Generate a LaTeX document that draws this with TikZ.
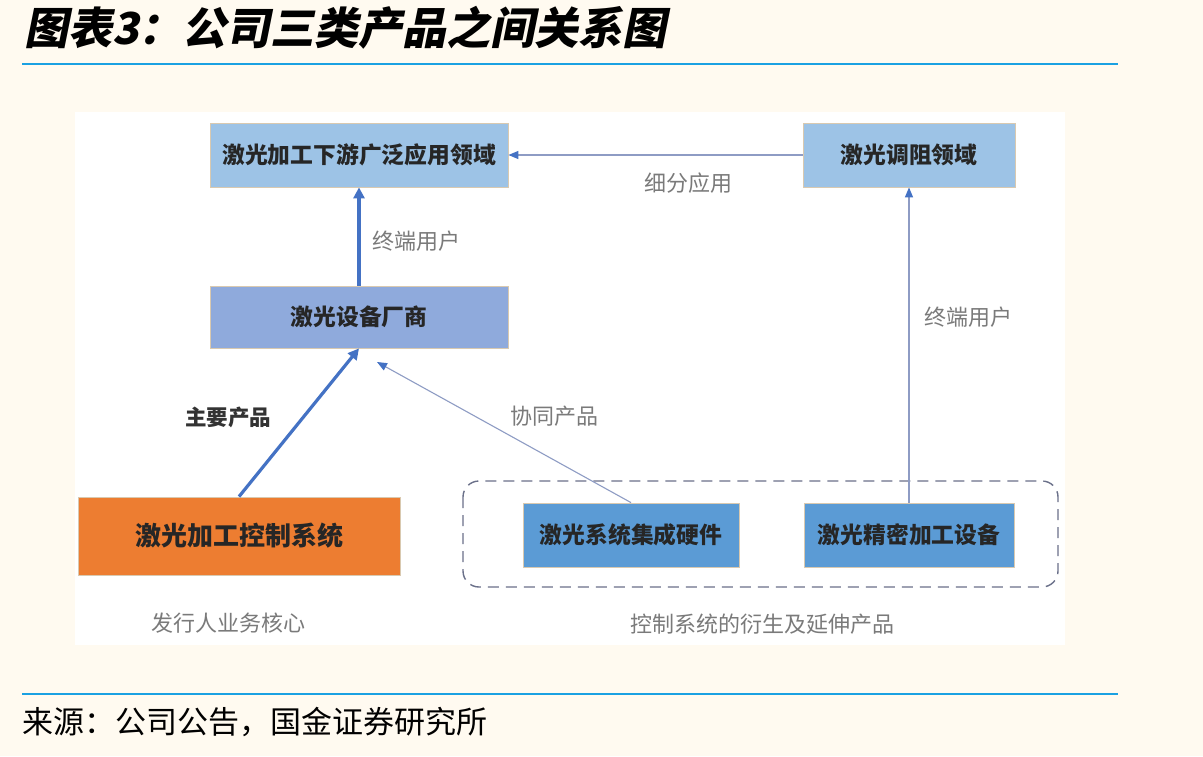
\documentclass[tikz,border=0pt]{standalone}
\usepackage{fontspec}
\usetikzlibrary{arrows.meta,positioning}
\newfontfamily\cjk{Noto Sans CJK SC}
\newfontfamily\cjkslant[FakeSlant=0.2]{Noto Sans CJK SC}
\definecolor{bgcream}{HTML}{FFFAF0}
\definecolor{rulecyan}{HTML}{1BA1E2}
\definecolor{lightblue}{HTML}{9DC3E6}
\definecolor{midblue}{HTML}{8FAADC}
\definecolor{boxblue}{HTML}{5B9BD5}
\definecolor{boxorange}{HTML}{ED7D31}
\definecolor{arrowblue}{HTML}{4472C4}
\definecolor{thinline}{HTML}{8E9CC4}
\definecolor{labelgray}{HTML}{7A7A7A}
\definecolor{boxedge}{HTML}{D9C9B0}
\definecolor{dashgray}{HTML}{6A7089}
\tikzset{
  x=1pt,y=-1pt,
  boxnode/.style={draw=boxedge, line width=0.8pt, inner sep=0pt, align=center,
    text=black!85, font=\cjk\bfseries\fontsize{22.8}{22.8}\selectfont},
  lbl/.style={text=labelgray, inner sep=0pt, font=\cjk\fontsize{22}{22}\selectfont},
  thickarrow/.style={draw=arrowblue, line width=3.2pt, -{Triangle[length=11pt,width=11pt]}},
  thinarrow/.style={draw=thinline, line width=1.3pt, -{Triangle[length=10pt,width=8pt,fill=arrowblue,color=arrowblue]}},
}
\begin{document}
\begin{tikzpicture}
\useasboundingbox (0,0) rectangle (1203,756);
\fill[bgcream] (0,0) rectangle (1203,756);
\fill[white] (75,112) rectangle (1065,645);
% title
\node[anchor=west, inner sep=0pt, font=\cjkslant\bfseries\fontsize{44}{44}\selectfont] (title) at (24,28) {图表3：公司三类产品之间关系图};
\draw[rulecyan, line width=2.2pt] (22,64) -- (1118,64);
\draw[rulecyan, line width=2.2pt] (22,694) -- (1118,694);
\node[anchor=west, inner sep=0pt, font=\cjk\fontsize{31}{31}\selectfont] (source) at (22,722) {来源：公司公告，国金证券研究所};
% dashed group
\draw[dashgray, line width=1.4pt, dash pattern=on 11pt off 7pt, rounded corners=16pt] (463,481) rectangle (1058,587);
% boxes
\node[boxnode, fill=lightblue, minimum width=298pt, minimum height=64pt] (down) at (359,155) {激光加工下游广泛应用领域};
\node[boxnode, fill=lightblue, minimum width=212pt, minimum height=64pt] (trim) at (909,155) {激光调阻领域};
\node[boxnode, fill=midblue, minimum width=298pt, minimum height=62pt] (maker) at (359,317) {激光设备厂商};
\node[boxnode, fill=boxorange, minimum width=322pt, minimum height=78pt, font=\cjk\bfseries\fontsize{26}{26}\selectfont] (ctrl) at (239,536) {激光加工控制系统};
\node[boxnode, fill=boxblue, minimum width=216pt, minimum height=64pt] (hw) at (631,535) {激光系统集成硬件};
\node[boxnode, fill=boxblue, minimum width=210pt, minimum height=64pt] (equip) at (909,535) {激光精密加工设备};
% connectors
\coordinate (makerin) at (377,362);
\draw[thickarrow] (maker.north) -- (down.south);
\draw[thinarrow] (trim.west) -- (down.east);
\draw[thinarrow] (equip.north) -- (trim.south);
\draw[thickarrow] (ctrl.north) -- (maker.south);
\draw[thinarrow, line width=1.1pt] (hw.north) -- (makerin);
% labels
\node[lbl] (l1) at (688,183) {细分应用};
\node[lbl] (l2) at (416,241) {终端用户};
\node[lbl] (l3) at (968,317) {终端用户};
\node[lbl, text=black!80, font=\cjk\bfseries\fontsize{21.5}{21.5}\selectfont] (l4) at (228,417) {主要产品};
\node[lbl] (l5) at (554,416) {协同产品};
\node[lbl] (l6) at (228,623) {发行人业务核心};
\node[lbl] (l7) at (762,624) {控制系统的衍生及延伸产品};
\end{tikzpicture}
\end{document}
